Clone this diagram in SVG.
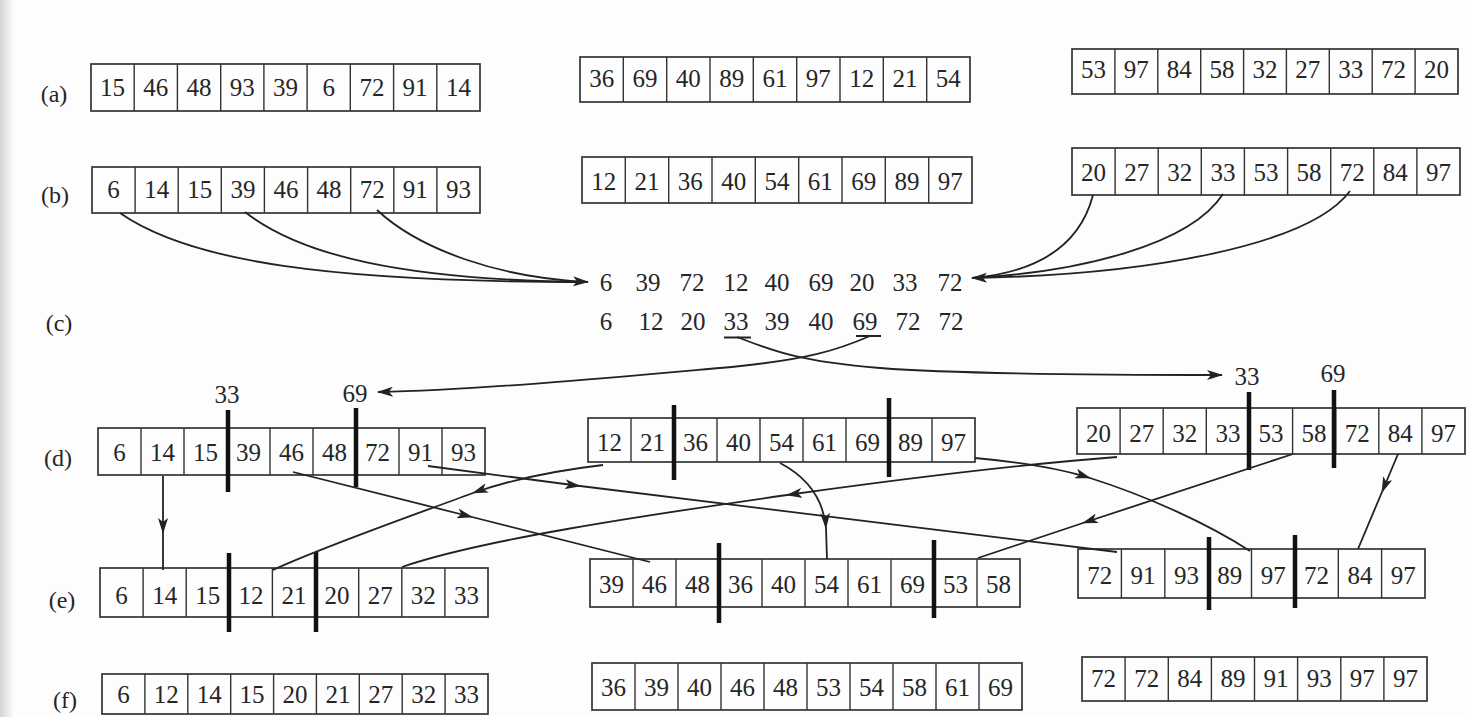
<svg xmlns="http://www.w3.org/2000/svg" width="1470" height="717" viewBox="0 0 1470 717">
  <defs>
    <linearGradient id="edge" x1="0" y1="0" x2="1" y2="0">
      <stop offset="0" stop-color="#d4d4d4"/>
      <stop offset="1" stop-color="#fdfdfd"/>
    </linearGradient>
    <marker id="head" viewBox="0 0 16 10" refX="15" refY="5" markerWidth="16" markerHeight="10" markerUnits="userSpaceOnUse" orient="auto">
      <path d="M0,0 L16,5 L0,10 L4,5 Z" fill="#222"/>
    </marker>
  </defs>
  <style>
    .box { fill: none; stroke: #333; stroke-width: 1.7; }
    .sep { fill: none; stroke: #333; stroke-width: 1.4; }
    .bar { stroke: #111; stroke-width: 4.5; }
    .n { font-family: "Liberation Serif", "DejaVu Serif", serif; font-size: 25px; fill: #262626; text-anchor: middle; }
    .lbl { font-family: "Liberation Serif", "DejaVu Serif", serif; font-size: 24px; fill: #262626; text-anchor: middle; }
    .wire { fill: none; stroke: #222; stroke-width: 1.8; }
    .mid { marker-mid: url(#head); }
    .end { marker-end: url(#head); }
  </style>

  <rect width="1470" height="717" fill="#fdfdfd"/>
  <rect width="14" height="717" fill="url(#edge)"/>

  <!-- row labels -->
  <g id="row-labels">
    <text class="lbl" x="54" y="102">(a)</text>
    <text class="lbl" x="55" y="203">(b)</text>
    <text class="lbl" x="59" y="331">(c)</text>
    <text class="lbl" x="58" y="466">(d)</text>
    <text class="lbl" x="62" y="608">(e)</text>
    <text class="lbl" x="65" y="708">(f)</text>
  </g>

  <!-- (a) unsorted blocks -->
  <g id="a-left">
    <rect class="box" x="91" y="64" width="389" height="47"/>
    <path class="sep" d="M134.2,64V111M177.4,64V111M220.7,64V111M263.9,64V111M307.1,64V111M350.3,64V111M393.6,64V111M436.8,64V111"/>
    <text class="n" y="96"><tspan x="112.6">15</tspan><tspan x="155.8">46</tspan><tspan x="199.1">48</tspan><tspan x="242.3">93</tspan><tspan x="285.5">39</tspan><tspan x="328.7">6</tspan><tspan x="371.9">72</tspan><tspan x="415.1">91</tspan><tspan x="458.4">14</tspan></text>
  </g>
  <g id="a-mid">
    <rect class="box" x="580" y="57" width="390" height="45"/>
    <path class="sep" d="M623.3,57V102M666.7,57V102M710,57V102M753.3,57V102M796.7,57V102M840,57V102M883.3,57V102M926.7,57V102"/>
    <text class="n" y="87"><tspan x="601.7">36</tspan><tspan x="645">69</tspan><tspan x="688.3">40</tspan><tspan x="731.7">89</tspan><tspan x="775">61</tspan><tspan x="818.3">97</tspan><tspan x="861.7">12</tspan><tspan x="905">21</tspan><tspan x="948.3">54</tspan></text>
  </g>
  <g id="a-right">
    <rect class="box" x="1072" y="49" width="386" height="45"/>
    <path class="sep" d="M1114.9,49V94M1157.8,49V94M1200.7,49V94M1243.6,49V94M1286.4,49V94M1329.3,49V94M1372.2,49V94M1415.1,49V94"/>
    <text class="n" y="78"><tspan x="1093.4">53</tspan><tspan x="1136.3">97</tspan><tspan x="1179.2">84</tspan><tspan x="1222.1">58</tspan><tspan x="1265">32</tspan><tspan x="1307.8">27</tspan><tspan x="1350.7">33</tspan><tspan x="1393.6">72</tspan><tspan x="1436.6">20</tspan></text>
  </g>

  <!-- (b) locally sorted blocks -->
  <g id="b-left">
    <rect class="box" x="92" y="167" width="388" height="46"/>
    <path class="sep" d="M135.1,167V213M178.2,167V213M221.3,167V213M264.4,167V213M307.6,167V213M350.7,167V213M393.8,167V213M436.9,167V213"/>
    <text class="n" y="198"><tspan x="113.6">6</tspan><tspan x="156.7">14</tspan><tspan x="199.8">15</tspan><tspan x="242.9">39</tspan><tspan x="286">46</tspan><tspan x="329.1">48</tspan><tspan x="372.2">72</tspan><tspan x="415.3">91</tspan><tspan x="458.4">93</tspan></text>
  </g>
  <g id="b-mid">
    <rect class="box" x="582" y="157" width="390" height="46"/>
    <path class="sep" d="M625.3,157V203M668.7,157V203M712,157V203M755.3,157V203M798.7,157V203M842,157V203M885.3,157V203M928.7,157V203"/>
    <text class="n" y="190"><tspan x="603.7">12</tspan><tspan x="647">21</tspan><tspan x="690.3">36</tspan><tspan x="733.7">40</tspan><tspan x="777">54</tspan><tspan x="820.3">61</tspan><tspan x="863.7">69</tspan><tspan x="907">89</tspan><tspan x="950.3">97</tspan></text>
  </g>
  <g id="b-right">
    <rect class="box" x="1072" y="148" width="388" height="47"/>
    <path class="sep" d="M1115.1,148V195M1158.2,148V195M1201.3,148V195M1244.4,148V195M1287.6,148V195M1330.7,148V195M1373.8,148V195M1416.9,148V195"/>
    <text class="n" y="181"><tspan x="1093.6">20</tspan><tspan x="1136.7">27</tspan><tspan x="1179.8">32</tspan><tspan x="1222.9">33</tspan><tspan x="1266">53</tspan><tspan x="1309.1">58</tspan><tspan x="1352.2">72</tspan><tspan x="1395.3">84</tspan><tspan x="1438.4">97</tspan></text>
  </g>

  <!-- (c) gathered samples and sorted samples -->
  <g id="c-samples">
    <text class="n" y="291"><tspan x="606">6</tspan><tspan x="648">39</tspan><tspan x="692">72</tspan><tspan x="736">12</tspan><tspan x="777">40</tspan><tspan x="821">69</tspan><tspan x="862">20</tspan><tspan x="905">33</tspan><tspan x="950">72</tspan></text>
  </g>
  <g id="c-sorted">
    <text class="n" y="330"><tspan x="606">6</tspan><tspan x="651">12</tspan><tspan x="693">20</tspan><tspan x="736">33</tspan><tspan x="777">39</tspan><tspan x="821">40</tspan><tspan x="865">69</tspan><tspan x="908">72</tspan><tspan x="951">72</tspan></text>
    <path class="wire" d="M724,337.5H751M856,336H881"/>
  </g>

  <!-- splitter labels -->
  <g id="splitters">
    <text class="n" x="227" y="403">33</text>
    <text class="n" x="355" y="402">69</text>
    <text class="n" x="1247" y="385">33</text>
    <text class="n" x="1333" y="382">69</text>
  </g>

  <!-- (d) blocks with partition bars -->
  <g id="d-left">
    <rect class="box" x="98" y="428" width="387" height="47"/>
    <path class="sep" d="M141,428V475M184,428V475M227,428V475M270,428V475M313,428V475M356,428V475M399,428V475M442,428V475"/>
    <text class="n" y="461"><tspan x="119.5">6</tspan><tspan x="162.5">14</tspan><tspan x="205.5">15</tspan><tspan x="248.5">39</tspan><tspan x="291.5">46</tspan><tspan x="334.5">48</tspan><tspan x="377.5">72</tspan><tspan x="420.5">91</tspan><tspan x="463.5">93</tspan></text>
    <path class="bar" d="M228,410V492M356,408V487"/>
  </g>
  <g id="d-mid">
    <rect class="box" x="588" y="418" width="387" height="44"/>
    <path class="sep" d="M631,418V462M674,418V462M717,418V462M760,418V462M803,418V462M846,418V462M889,418V462M932,418V462"/>
    <text class="n" y="451"><tspan x="609.5">12</tspan><tspan x="652.5">21</tspan><tspan x="695.5">36</tspan><tspan x="738.5">40</tspan><tspan x="781.5">54</tspan><tspan x="824.5">61</tspan><tspan x="867.5">69</tspan><tspan x="910.5">89</tspan><tspan x="953.5">97</tspan></text>
    <path class="bar" d="M674,405V480M889,398V477"/>
  </g>
  <g id="d-right">
    <rect class="box" x="1077" y="408" width="388" height="46"/>
    <path class="sep" d="M1120.1,408V454M1163.2,408V454M1206.3,408V454M1249.4,408V454M1292.6,408V454M1335.7,408V454M1378.8,408V454M1421.9,408V454"/>
    <text class="n" y="442"><tspan x="1098.6">20</tspan><tspan x="1141.7">27</tspan><tspan x="1184.8">32</tspan><tspan x="1227.9">33</tspan><tspan x="1271">53</tspan><tspan x="1314.1">58</tspan><tspan x="1357.2">72</tspan><tspan x="1400.3">84</tspan><tspan x="1443.4">97</tspan></text>
    <path class="bar" d="M1249,392V470M1334,390V468"/>
  </g>

  <!-- (e) blocks after exchange -->
  <g id="e-left">
    <rect class="box" x="100" y="568" width="388" height="49"/>
    <path class="sep" d="M143.1,568V617M186.2,568V617M229.3,568V617M272.4,568V617M315.6,568V617M358.7,568V617M401.8,568V617M444.9,568V617"/>
    <text class="n" y="604"><tspan x="121.6">6</tspan><tspan x="164.7">14</tspan><tspan x="207.8">15</tspan><tspan x="250.9">12</tspan><tspan x="294">21</tspan><tspan x="337.1">20</tspan><tspan x="380.2">27</tspan><tspan x="423.3">32</tspan><tspan x="466.4">33</tspan></text>
    <path class="bar" d="M229,553V632M316,552V632"/>
  </g>
  <g id="e-mid">
    <rect class="box" x="590" y="559" width="430" height="48"/>
    <path class="sep" d="M633,559V607M676,559V607M719,559V607M762,559V607M805,559V607M848,559V607M891,559V607M934,559V607M977,559V607"/>
    <text class="n" y="593"><tspan x="611.5">39</tspan><tspan x="654.5">46</tspan><tspan x="697.5">48</tspan><tspan x="740.5">36</tspan><tspan x="783.5">40</tspan><tspan x="826.5">54</tspan><tspan x="869.5">61</tspan><tspan x="912.5">69</tspan><tspan x="955.5">53</tspan><tspan x="998.5">58</tspan></text>
    <path class="bar" d="M719,543V623M934,540V618"/>
  </g>
  <g id="e-right">
    <rect class="box" x="1078" y="549" width="347" height="49"/>
    <path class="sep" d="M1121.4,549V598M1164.8,549V598M1208.1,549V598M1251.5,549V598M1294.9,549V598M1338.3,549V598M1381.6,549V598"/>
    <text class="n" y="584"><tspan x="1099.7">72</tspan><tspan x="1143.1">91</tspan><tspan x="1186.4">93</tspan><tspan x="1229.8">89</tspan><tspan x="1273.2">97</tspan><tspan x="1316.6">72</tspan><tspan x="1359.9">84</tspan><tspan x="1403.3">97</tspan></text>
    <path class="bar" d="M1209,537V610M1295,535V608"/>
  </g>

  <!-- (f) final sorted blocks -->
  <g id="f-left">
    <rect class="box" x="102" y="674" width="386" height="40"/>
    <path class="sep" d="M144.9,674V714M187.8,674V714M230.7,674V714M273.6,674V714M316.4,674V714M359.3,674V714M402.2,674V714M445.1,674V714"/>
    <text class="n" y="703"><tspan x="123.4">6</tspan><tspan x="166.3">12</tspan><tspan x="209.2">14</tspan><tspan x="252.1">15</tspan><tspan x="295">20</tspan><tspan x="337.9">21</tspan><tspan x="380.8">27</tspan><tspan x="423.7">32</tspan><tspan x="466.6">33</tspan></text>
  </g>
  <g id="f-mid">
    <rect class="box" x="592" y="663" width="430" height="47"/>
    <path class="sep" d="M635,663V710M678,663V710M721,663V710M764,663V710M807,663V710M850,663V710M893,663V710M936,663V710M979,663V710"/>
    <text class="n" y="696"><tspan x="613.5">36</tspan><tspan x="656.5">39</tspan><tspan x="699.5">40</tspan><tspan x="742.5">46</tspan><tspan x="785.5">48</tspan><tspan x="828.5">53</tspan><tspan x="871.5">54</tspan><tspan x="914.5">58</tspan><tspan x="957.5">61</tspan><tspan x="1000.5">69</tspan></text>
  </g>
  <g id="f-right">
    <rect class="box" x="1082" y="657" width="345" height="44"/>
    <path class="sep" d="M1125.1,657V701M1168.3,657V701M1211.4,657V701M1254.5,657V701M1297.6,657V701M1340.8,657V701M1383.9,657V701"/>
    <text class="n" y="687"><tspan x="1103.6">72</tspan><tspan x="1146.7">72</tspan><tspan x="1189.8">84</tspan><tspan x="1232.9">89</tspan><tspan x="1276.1">91</tspan><tspan x="1319.2">93</tspan><tspan x="1362.3">97</tspan><tspan x="1405.4">97</tspan></text>
  </g>

  <!-- connectors -->
  <g id="connectors">
    <!-- samples gathered from each block -->
    <path class="wire" d="M120,213 C190,262 330,282 588,282"/>
    <path class="wire" d="M245,212 C300,255 400,280 588,282"/>
    <path class="wire end" d="M377,210 C420,250 500,278 588,282"/>
    <path class="wire" d="M1093,195 C1080,245 1040,272 972,278"/>
    <path class="wire" d="M1223,194 C1190,245 1080,272 972,278"/>
    <path class="wire end" d="M1350,191 C1310,245 1150,275 972,278"/>
    <!-- splitters broadcast -->
    <path class="wire end" d="M737,337 C770,350 800,362 880,368 S1100,375 1222,375"/>
    <path class="wire end" d="M870,336 C840,349 810,360 720,368 S480,390 378,392"/>
    <!-- all-to-all exchange -->
    <path class="wire mid" d="M163,476 L163,533 L163,570"/>
    <path class="wire mid" d="M293,472 L472,517 L650,562"/>
    <path class="wire mid" d="M428,466 L580,486 L1117,552"/>
    <path class="wire mid" d="M603,465 C560,470 510,480 473,493 C400,520 320,548 273,570"/>
    <path class="wire mid" d="M780,463 Q822,485 826,528 L827,559"/>
    <path class="wire mid" d="M975,458 C1030,463 1065,470 1090,478 C1150,497 1210,525 1250,551"/>
    <path class="wire mid" d="M1117,457 C1000,466 880,482 787,495 C640,516 480,540 402,567"/>
    <path class="wire mid" d="M1293,454 L1083,523 L978,558"/>
    <path class="wire mid" d="M1398,454 L1382,492 L1358,549"/>
  </g>
</svg>
